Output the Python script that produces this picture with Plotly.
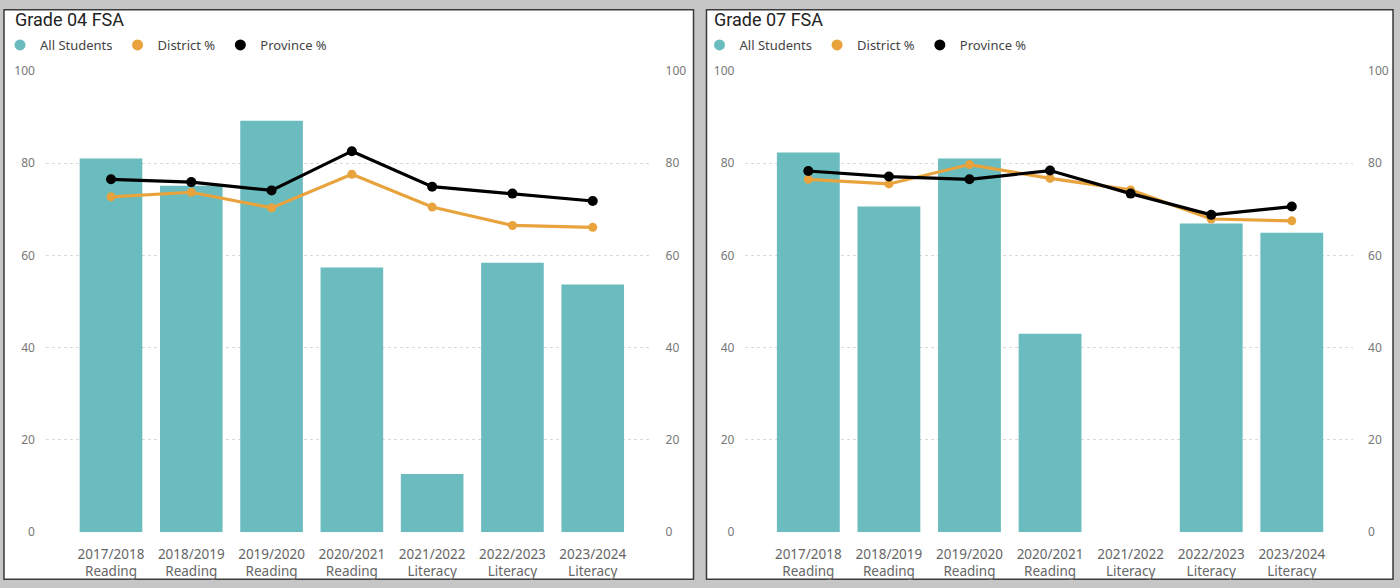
import plotly.graph_objects as go

# ---------------- data ----------------
categories = [
    "2017/2018<br>Reading", "2018/2019<br>Reading", "2019/2020<br>Reading",
    "2020/2021<br>Reading", "2021/2022<br>Literacy", "2022/2023<br>Literacy",
    "2023/2024<br>Literacy",
]
g4_all_students = [81.0, 75.1, 89.2, 57.4, 12.6, 58.4, 53.7]
g4_district = [72.7, 73.7, 70.3, 77.6, 70.5, 66.5, 66.1]
g4_province = [76.5, 75.9, 74.1, 82.6, 74.9, 73.4, 71.8]

g7_all_students = [82.3, 70.6, 81.0, 43.0, None, 66.9, 64.9]
g7_district = [76.5, 75.5, 79.7, 76.7, 74.2, 67.9, 67.5]
g7_province = [78.3, 77.1, 76.5, 78.4, 73.4, 68.8, 70.6]

y_ticks = [0, 20, 40, 60, 80, 100]
panel_titles = ["Grade 04 FSA", "Grade 07 FSA"]
series_names = ["All Students", "District %", "Province %"]

# ---------------- style ----------------
W, H = 1400, 588
TEAL = "#6BBCBE"
ORANGE = "#E8A33D"
BLACK = "#000000"
FONT = "Noto Sans"

def px(x):
    return x / W

def py(y):
    # target screen row -> paper fraction (compensates the capture's vertical fit)
    yf = (y - 8) / 0.9725
    yf = min(max(yf, 0.0), H)
    return 1 - yf / H

fig = go.Figure()

panels = [
    dict(x="x", y="y", y2="y2", all=g4_all_students, dist=g4_district,
         prov=g4_province, legend="legend"),
    dict(x="x2", y="y3", y2="y4", all=g7_all_students, dist=g7_district,
         prov=g7_province, legend="legend2"),
]

for p in panels:
    fig.add_trace(go.Bar(
        x=categories, y=p["all"], xaxis=p["x"], yaxis=p["y"],
        marker=dict(color=TEAL, line=dict(width=0)),
        name=series_names[0], showlegend=False, hoverinfo="x+y",
    ))
    fig.add_trace(go.Scatter(
        x=categories, y=p["dist"], xaxis=p["x"], yaxis=p["y2"],
        mode="lines+markers", line=dict(color=ORANGE, width=3.2),
        marker=dict(color=ORANGE, size=9), name=series_names[1],
        showlegend=False,
    ))
    fig.add_trace(go.Scatter(
        x=categories, y=p["prov"], xaxis=p["x"], yaxis=p["y2"],
        mode="lines+markers", line=dict(color=BLACK, width=3.2),
        marker=dict(color=BLACK, size=10), name=series_names[2],
        showlegend=False,
    ))
    # legend entries (circle symbols like the reference)
    for nm, col in zip(series_names, [TEAL, ORANGE, BLACK]):
        fig.add_trace(go.Scatter(
            x=[None], y=[None], xaxis=p["x"], yaxis=p["y"],
            mode="markers", marker=dict(color=col, size=11, symbol="circle"),
            name=nm, legend=p["legend"], showlegend=True,
        ))

ydomain = [py(532), py(70)]
tickfont = dict(family=FONT, size=12, color="#777777")

common_x = dict(
    type="category", showgrid=False, zeroline=False, showline=False,
    ticks="", tickfont=dict(family=FONT, size=13.5, color="#666666"),
    ticklabelstandoff=12, fixedrange=True,
)
common_y = dict(
    range=[0, 100], tickvals=y_ticks, showline=False, zeroline=False,
    ticks="", tickfont=tickfont, fixedrange=True,
)

fig.update_layout(
    width=W, height=H, autosize=False,
    margin=dict(l=0, r=0, t=0, b=0),
    paper_bgcolor="#c6c6c6", plot_bgcolor="rgba(0,0,0,0)",
    bargap=0.22,
    xaxis=dict(domain=[px(45), px(650)], range=[-0.81, 6.72],
               anchor="y", **common_x),
    yaxis=dict(domain=ydomain, anchor="x", showgrid=True,
               gridcolor="#d9d9d9", griddash="dot", gridwidth=1,
               ticklabelstandoff=10, **common_y),
    yaxis2=dict(overlaying="y", side="right", anchor="x", showgrid=False,
                ticklabelstandoff=14, **common_y),
    xaxis2=dict(domain=[px(745), px(1353)], range=[-0.78, 6.76],
                anchor="y3", **common_x),
    yaxis3=dict(domain=ydomain, anchor="x2", showgrid=True,
                gridcolor="#d9d9d9", griddash="dot", gridwidth=1,
                ticklabelstandoff=10, **common_y),
    yaxis4=dict(overlaying="y3", side="right", anchor="x2", showgrid=False,
                ticklabelstandoff=14, **common_y),
    legend=dict(orientation="h", x=px(-1), y=py(44), xanchor="left",
                yanchor="middle", bgcolor="rgba(0,0,0,0)",
                font=dict(family=FONT, size=13, color="#444444"),
                itemwidth=30, tracegroupgap=0),
    legend2=dict(orientation="h", x=px(699), y=py(44), xanchor="left",
                 yanchor="middle", bgcolor="rgba(0,0,0,0)",
                 font=dict(family=FONT, size=13, color="#444444"),
                 itemwidth=30, tracegroupgap=0),
    shapes=[
        dict(type="rect", xref="paper", yref="paper", layer="below",
             x0=px(3), x1=px(693), y0=1 - 587.2 / H, y1=1 - 0.8 / H,
             fillcolor="white", line=dict(color="#3a3a3a", width=1.5)),
        dict(type="rect", xref="paper", yref="paper", layer="below",
             x0=px(706), x1=px(1393), y0=1 - 587.2 / H, y1=1 - 0.8 / H,
             fillcolor="white", line=dict(color="#3a3a3a", width=1.5)),
    ],
    annotations=[
        dict(text=panel_titles[0], xref="paper", yref="paper",
             x=px(12), y=py(19), xanchor="left", yanchor="middle",
             showarrow=False, font=dict(family="Roboto", size=18, color="#222222")),
        dict(text=panel_titles[1], xref="paper", yref="paper",
             x=px(712), y=py(19), xanchor="left", yanchor="middle",
             showarrow=False, font=dict(family="Roboto", size=18, color="#222222")),
    ],
    hovermode="closest",
)

fig.write_html(
    "out.html",
    config={"displayModeBar": False},
    post_script="document.body.style.margin='0';document.body.style.overflow='hidden';",
)
